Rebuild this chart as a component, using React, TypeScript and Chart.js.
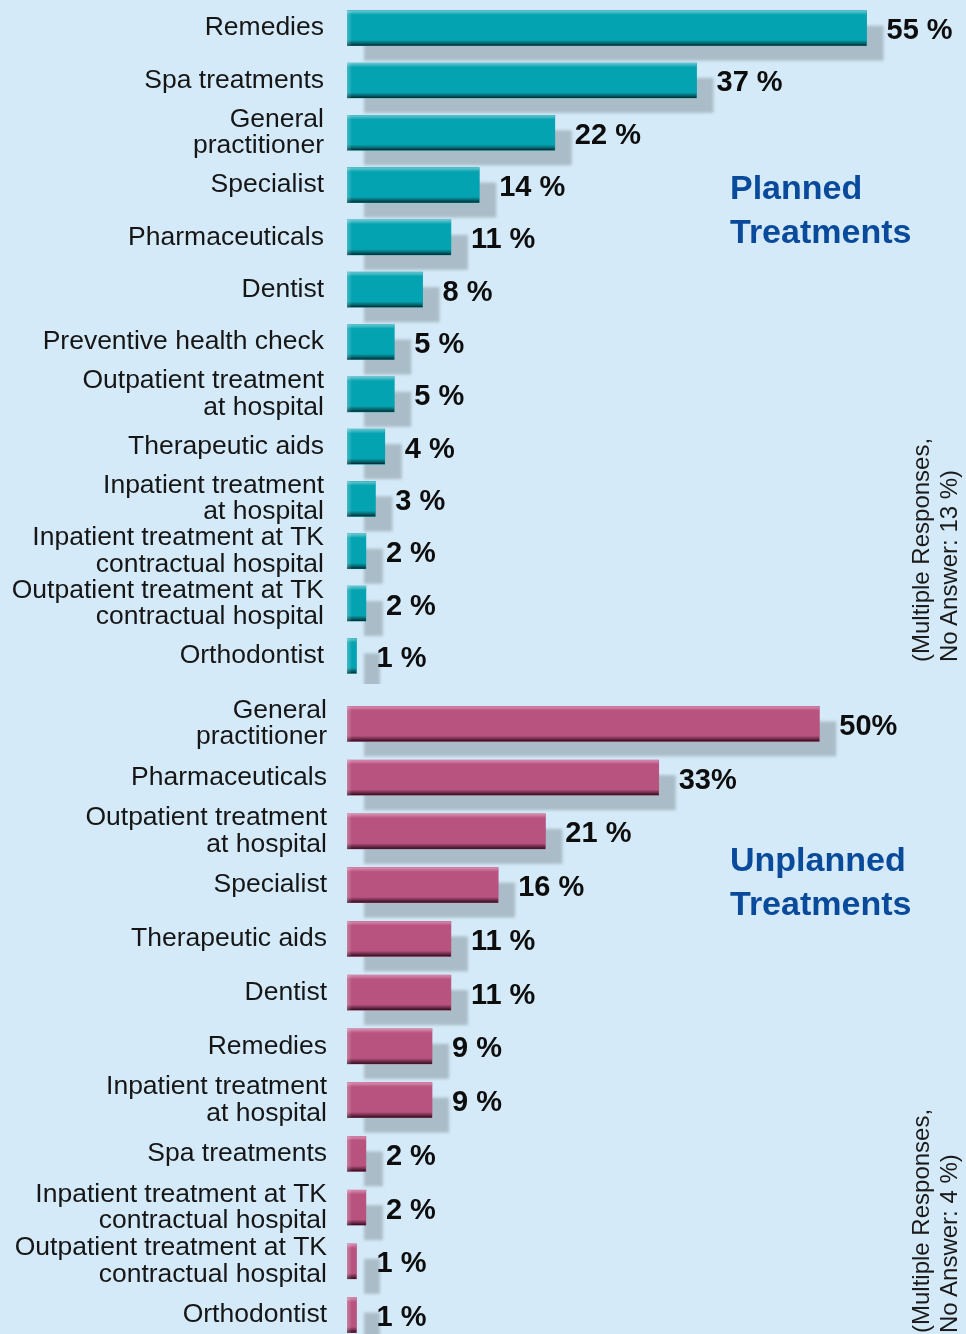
import React, { useEffect, useRef } from "react";
import { Chart, registerables } from "chart.js";

Chart.register(...registerables);

const plannedCategories: (string | string[])[] = [
  "Remedies",
  "Spa treatments",
  ["General", "practitioner"],
  "Specialist",
  "Pharmaceuticals",
  "Dentist",
  "Preventive health check",
  ["Outpatient treatment", "at hospital"],
  "Therapeutic aids",
  ["Inpatient treatment", "at hospital"],
  ["Inpatient treatment at TK", "contractual hospital"],
  ["Outpatient treatment at TK", "contractual hospital"],
  "Orthodontist",
];
const plannedValues = [55, 37, 22, 14, 11, 8, 5, 5, 4, 3, 2, 2, 1];
const plannedValueLabels = ["55 %", "37 %", "22 %", "14 %", "11 %", "8 %", "5 %", "5 %", "4 %", "3 %", "2 %", "2 %", "1 %"];

const unplannedCategories: (string | string[])[] = [
  ["General", "practitioner"],
  "Pharmaceuticals",
  ["Outpatient treatment", "at hospital"],
  "Specialist",
  "Therapeutic aids",
  "Dentist",
  "Remedies",
  ["Inpatient treatment", "at hospital"],
  "Spa treatments",
  ["Inpatient treatment at TK", "contractual hospital"],
  ["Outpatient treatment at TK", "contractual hospital"],
  "Orthodontist",
];
const unplannedValues = [50, 33, 21, 16, 11, 11, 9, 9, 2, 2, 1, 1];
const unplannedValueLabels = ["50%", "33%", "21 %", "16 %", "11 %", "11 %", "9 %", "9 %", "2 %", "2 %", "1 %", "1 %"];

const BG = "#d5eaf8";
const SHADOW = "#a9bcc7";
const TEAL = { light: "#6cc8d1", base: "#04a3b1", dark: "#05646d", darkest: "#00272b" };
const PINK = { light: "#d98fb0", base: "#b8527f", dark: "#6e2a49", darkest: "#2a0d1a" };

function makeDecor(colors: typeof TEAL, valueLabels: string[]) {
  return {
    id: "barDecor",
    beforeDatasetsDraw(chart: any) {
      const ctx = chart.ctx;
      const meta = chart.getDatasetMeta(0);
      ctx.save();
      ctx.filter = "blur(1.5px)";
      ctx.fillStyle = SHADOW;
      meta.data.forEach((bar: any) => {
        const p = bar.getProps(["x", "y", "base", "height"], true);
        const w = Math.max(p.x - p.base, 16);
        ctx.fillRect(p.base + 17, p.y - p.height / 2 + 15, w, p.height);
      });
      ctx.restore();
    },
    afterDatasetsDraw(chart: any) {
      const ctx = chart.ctx;
      const meta = chart.getDatasetMeta(0);
      ctx.save();
      meta.data.forEach((bar: any, i: number) => {
        const p = bar.getProps(["x", "y", "base", "height"], true);
        const top = p.y - p.height / 2;
        const bottom = p.y + p.height / 2;
        const g = ctx.createLinearGradient(0, top, 0, bottom);
        g.addColorStop(0, colors.light);
        g.addColorStop(0.12, colors.base);
        g.addColorStop(0.84, colors.base);
        g.addColorStop(0.93, colors.dark);
        g.addColorStop(1, colors.darkest);
        ctx.fillStyle = g;
        ctx.fillRect(p.base, top, p.x - p.base, p.height);
        const lg = ctx.createLinearGradient(p.base, 0, p.base + 5, 0);
        lg.addColorStop(0, "rgba(255,255,255,0.25)");
        lg.addColorStop(1, "rgba(255,255,255,0)");
        ctx.fillStyle = lg;
        ctx.fillRect(p.base, top, Math.min(5, p.x - p.base), p.height);

        ctx.fillStyle = "#0d0d0d";
        ctx.font = "bold 29px 'Liberation Sans', Arial, sans-serif";
        ctx.textBaseline = "middle";
        ctx.textAlign = "left";
        ctx.fillText(valueLabels[i], p.x + 20, p.y + 3);
      });
      ctx.restore();
    },
  };
}

function BarChart(props: {
  categories: (string | string[])[];
  values: number[];
  valueLabels: string[];
  colors: typeof TEAL;
  width: number;
  height: number;
  padTop: number;
  padBottom: number;
  tickPad: number;
}) {
  const ref = useRef<HTMLCanvasElement>(null);
  useEffect(() => {
    if (!ref.current) return;
    const chart = new Chart(ref.current, {
      type: "bar",
      data: {
        labels: props.categories as any,
        datasets: [
          {
            data: props.values,
            backgroundColor: props.colors.base,
            borderWidth: 0,
            barThickness: 35,
          },
        ],
      },
      options: {
        indexAxis: "y",
        animation: false,
        responsive: false,
        devicePixelRatio: 1,
        layout: { padding: { top: props.padTop, bottom: props.padBottom, left: 0, right: 5 } },
        plugins: { legend: { display: false }, tooltip: { enabled: false } },
        scales: {
          x: { display: false, min: 0, max: 65 },
          y: {
            grid: { display: false, drawTicks: false },
            border: { display: false },
            afterFit: (s: any) => {
              s.width = 347;
              s.paddingTop = 0;
              s.paddingBottom = 0;
            },
            ticks: {
              autoSkip: false,
              padding: props.tickPad,
              color: "#161616",
              font: { family: "'Liberation Sans', Arial, sans-serif", size: 26.5, lineHeight: 1.0 },
            },
          },
        },
      },
      plugins: [makeDecor(props.colors, props.valueLabels)],
    });
    return () => chart.destroy();
  }, []);
  return <canvas ref={ref} width={props.width} height={props.height} style={{ display: "block" }} />;
}

const titleStyle: React.CSSProperties = {
  position: "absolute",
  left: 730,
  fontFamily: "'Liberation Sans', Arial, sans-serif",
  fontWeight: "bold",
  fontSize: 34,
  lineHeight: "44px",
  color: "#0a4a9b",
  whiteSpace: "nowrap",
};

const noteStyle: React.CSSProperties = {
  position: "absolute",
  left: 907,
  transform: "rotate(-90deg)",
  transformOrigin: "left top",
  fontFamily: "'Liberation Sans', Arial, sans-serif",
  fontSize: 24,
  lineHeight: "28px",
  color: "#1a1a1a",
  whiteSpace: "nowrap",
};

export default function App() {
  return (
    <div
      style={{
        position: "absolute",
        left: 0,
        top: 0,
        width: 966,
        height: 1334,
        overflow: "hidden",
        background: BG,
      }}
    >
      <div style={{ position: "absolute", left: 0, top: 0 }}>
        <BarChart
          categories={plannedCategories}
          values={plannedValues}
          valueLabels={plannedValueLabels}
          colors={TEAL}
          width={966}
          height={684}
          padTop={2}
          padBottom={2}
          tickPad={23}
        />
      </div>
      <div style={{ position: "absolute", left: 0, top: 697 }}>
        <BarChart
          categories={unplannedCategories}
          values={unplannedValues}
          valueLabels={unplannedValueLabels}
          colors={PINK}
          width={966}
          height={646}
          padTop={0}
          padBottom={1}
          tickPad={20}
        />
      </div>
      <div style={{ ...titleStyle, top: 165 }}>
        Planned
        <br />
        Treatments
      </div>
      <div style={{ ...titleStyle, top: 837 }}>
        Unplanned
        <br />
        Treatments
      </div>
      <div style={{ ...noteStyle, top: 662 }}>
        (Multiple Responses,
        <br />
        No Answer: 13 %)
      </div>
      <div style={{ ...noteStyle, top: 1333 }}>
        (Multiple Responses,
        <br />
        No Answer: 4 %)
      </div>
    </div>
  );
}
